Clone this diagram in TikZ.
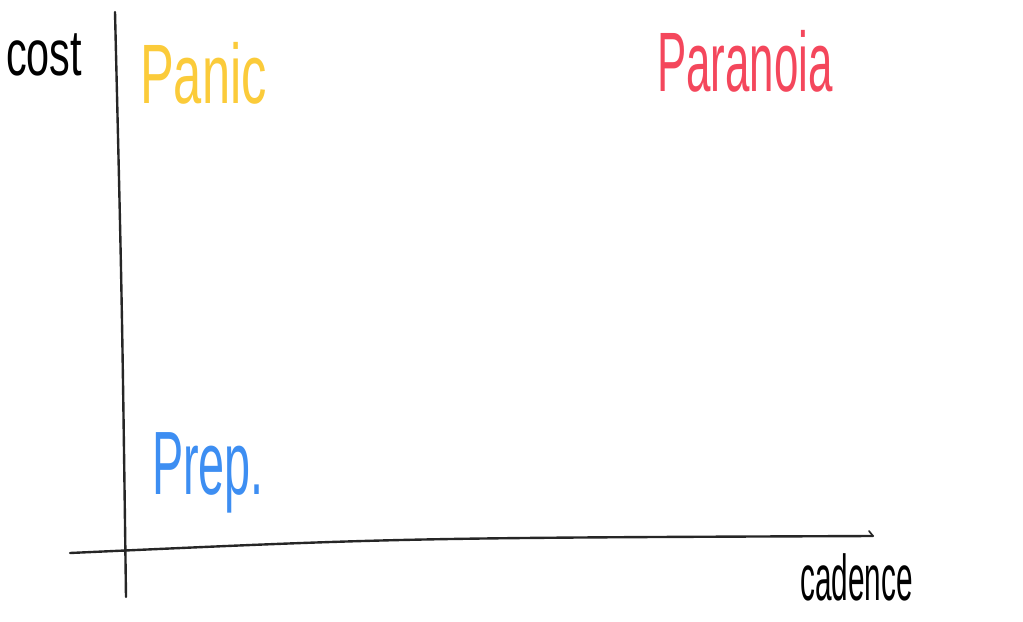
\documentclass[tikz,border=0pt]{standalone}
\usepackage{fontspec}
\setmainfont{Liberation Sans}
\usepackage{xcolor}
\usetikzlibrary{positioning}
\definecolor{panicyellow}{HTML}{FBCB3A}
\definecolor{parared}{HTML}{F4475C}
\definecolor{prepblue}{HTML}{3D8EF2}
\begin{document}
\begin{tikzpicture}[
    x=0.025cm, y=-0.025cm,
    axis/.style={line width=1.7pt, black!85, line cap=round},
    scrawl/.style={anchor=base west, inner sep=0pt, transform shape,
                   font=\fontsize{50}{50}\selectfont},
]
\useasboundingbox (0,0) rectangle (1023,622);
% --- axes ---
\coordinate (ytop) at (115,12);
\coordinate (ybot) at (126,597);
\coordinate (xleft) at (70,553);
\coordinate (xright) at (873,536);
\draw[axis] (ytop) .. controls (122,300) .. (ybot);
\draw[axis] (xleft) .. controls (400,538) .. (xright);
\draw[axis, line width=1.2pt] (xright) -- ++(-4,-5);

% --- axis labels ---
\node[scrawl, xscale=0.64, font=\fontsize{46}{46}\selectfont] (cost) at (6,76) {cost};
\node[scrawl, xscale=0.46, font=\fontsize{46}{46}\selectfont] (cadence) at (800,600) {cadence};

% --- regions ---
\node[scrawl, xscale=0.6, text=panicyellow, font=\fontsize{60}{60}\selectfont] (panic) at (140,104) {Panic};
\node[scrawl, xscale=0.52, text=parared, font=\fontsize{60}{60}\selectfont] (paranoia) at (657,92) {Paranoia};
\node[scrawl, xscale=0.52, text=prepblue, font=\fontsize{64}{64}\selectfont] (prep) at (152,494) {Prep.};
\end{tikzpicture}
\end{document}
